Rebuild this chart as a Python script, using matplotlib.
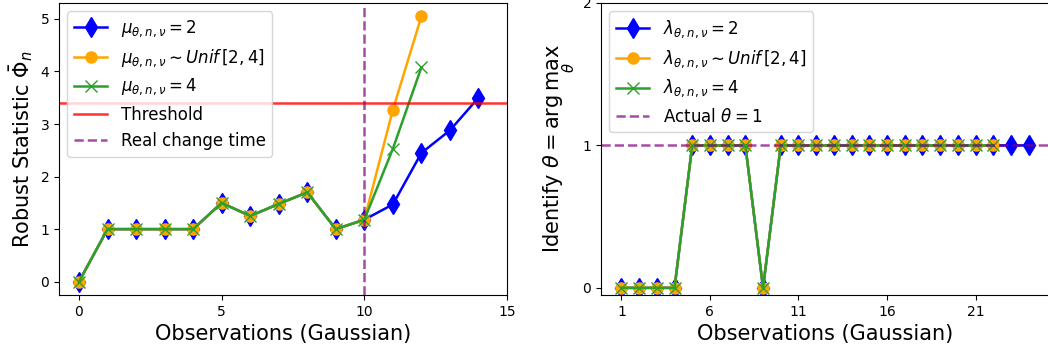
import matplotlib.pyplot as plt

# left panel: robust statistic vs observations
obs_left = list(range(15))
stat_mu2 = [0.0, 1.0, 1.0, 1.0, 1.0, 1.5, 1.25, 1.48, 1.7, 1.0, 1.18, 1.47, 2.45, 2.88, 3.5]
stat_unif = [0.0, 1.0, 1.0, 1.0, 1.0, 1.5, 1.25, 1.48, 1.7, 1.0, 1.18, 3.27, 5.05]
stat_mu4 = [0.0, 1.0, 1.0, 1.0, 1.0, 1.5, 1.25, 1.48, 1.7, 1.0, 1.18, 2.53, 4.08]
threshold = 3.4
change_time = 10

# right panel: identified theta
obs_right = list(range(1, 25))
theta_lam2 = [0, 0, 0, 0, 1, 1, 1, 1, 0] + [1] * 15
theta_unif = [0, 0, 0, 0, 1, 1, 1, 1, 0] + [1] * 13
theta_lam4 = [0, 0, 0, 0, 1, 1, 1, 1, 0] + [1] * 13
actual_theta = 1

fig = plt.figure(figsize=(10.48, 3.52), dpi=100)
ax1 = fig.add_axes([0.0563, 0.162, 0.4275, 0.8295])
ax2 = fig.add_axes([0.5735, 0.162, 0.4275, 0.8295])

ax1.plot(obs_left, stat_mu2, color="blue", marker="d", markersize=10, lw=1.8,
         label=r"$\mu_{\theta,n,\nu} = 2$")
ax1.plot(obs_left[:len(stat_unif)], stat_unif, color="orange", marker="o", markersize=8, lw=1.8,
         label=r"$\mu_{\theta,n,\nu} \sim Unif\,[2,4]$")
ax1.plot(obs_left[:len(stat_mu4)], stat_mu4, color="tab:green", marker="x", markersize=9, lw=1.8,
         label=r"$\mu_{\theta,n,\nu} = 4$")
ax1.axhline(threshold, color="red", alpha=0.8, lw=1.8, label="Threshold")
ax1.axvline(change_time, color="purple", linestyle="--", alpha=0.7, lw=1.8, label="Real change time")
ax1.set_xlim(-0.7, 15)
ax1.set_xticks([0, 5, 10, 15])
ax1.set_xlabel("Observations (Gaussian)", fontsize=15)
ax1.set_ylabel(r"Robust Statistic $\bar{\Phi}_n$", fontsize=15)
ax1.legend(loc="upper left", fontsize=12)

ax2.plot(obs_right, theta_lam2, color="blue", marker="d", markersize=10, lw=1.8,
         label=r"$\lambda_{\theta,n,\nu} = 2$")
ax2.plot(obs_right[:len(theta_unif)], theta_unif, color="orange", marker="o", markersize=8, lw=1.8,
         label=r"$\lambda_{\theta,n,\nu} \sim Unif\,[2,4]$")
ax2.plot(obs_right[:len(theta_lam4)], theta_lam4, color="tab:green", marker="x", markersize=9, lw=1.8,
         label=r"$\lambda_{\theta,n,\nu} = 4$")
ax2.axhline(actual_theta, color="purple", linestyle="--", alpha=0.7, lw=1.8, label=r"Actual $\theta = 1$")
ax2.set_ylim(-0.05, 2)
ax2.set_yticks([0, 1, 2])
ax2.set_xticks([1, 6, 11, 16, 21])
ax2.set_xlabel("Observations (Gaussian)", fontsize=15)
ax2.set_ylabel(r"Identify $\theta = \arg\max_{\theta}$", fontsize=15)
ax2.legend(loc="upper left", fontsize=12)

fig.savefig("out.png", dpi=100)
